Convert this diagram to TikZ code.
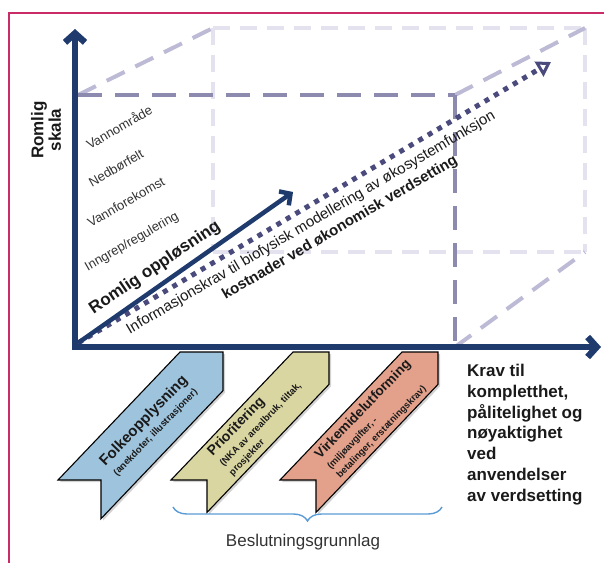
\documentclass[tikz,border=0pt]{standalone}
\usepackage{fontspec}
\setmainfont{Liberation Sans}
\usetikzlibrary{arrows.meta,decorations.pathreplacing,shadows}

\definecolor{aksefarge}{HTML}{1F3A6D}
\definecolor{prikkfarge}{HTML}{4A4A7C}
\definecolor{morkfarge}{HTML}{8C8AAF}
\definecolor{diagfarge}{HTML}{BDBAD6}
\definecolor{lyfarge}{HTML}{E3E2EE}
\definecolor{rammefarge}{HTML}{C92C68}
\definecolor{baandbla}{HTML}{9EC3DC}
\definecolor{baandgul}{HTML}{DAD6A2}
\definecolor{baandrod}{HTML}{E3A18B}
\definecolor{klammefarge}{HTML}{5B9BD5}
\definecolor{tekstfarge}{HTML}{1A1A1A}
\definecolor{gramfarge}{HTML}{333333}

\tikzset{
  aksepil/.style={draw=aksefarge, line width=6.5pt, line join=miter,
    {Straight Barb[length=9pt,width=20pt]}-{Straight Barb[length=9pt,width=20pt]}},
  opplpil/.style={draw=aksefarge, line width=4.5pt, -{Straight Barb[length=8pt,width=17pt]}},
  prikkpil/.style={draw=prikkfarge, line width=5pt, dash pattern=on 5pt off 6pt,
    -{Triangle[open,length=14pt,width=17pt,line width=3pt]}},
  stiplamork/.style={draw=morkfarge, line width=4.5pt, dash pattern=on 24pt off 13pt},
  stipladiag/.style={draw=diagfarge, line width=4pt, dash pattern=on 20pt off 12pt},
  stiplaly/.style={draw=lyfarge, line width=4pt, dash pattern=on 17pt off 10pt},
  baand/.style={draw=black, line width=1.1pt, line join=miter,
    drop shadow={shadow xshift=2pt, shadow yshift=-2pt, opacity=.35}},
  baandtekst/.style={rotate=46, text=tekstfarge, inner sep=0pt,
    font=\bfseries\fontsize{9.5}{12}\selectfont},
  nivaa/.style={rotate=30, text=gramfarge, inner sep=0pt, font=\fontsize{13}{15}\selectfont},
  aksetekst/.style={text=tekstfarge, inner sep=0pt, font=\bfseries\fontsize{17}{20.8}\selectfont},
  klammestil/.style={draw=klammefarge, line width=1.4pt, decorate,
    decoration={brace, amplitude=14pt}},
}

\begin{document}
\begin{tikzpicture}[x=1pt,y=-1pt]
\useasboundingbox (0,0) rectangle (604,563);

%ramme
\draw[draw=rammefarge, line width=1.5pt] (9,563) -- (9,13) -- (604,13);

%stiplet boks
\coordinate (A) at (78,95);   % foran oppe
\coordinate (B) at (455,95);
\coordinate (C) at (455,347);
\coordinate (D) at (213,28);  % bak
\coordinate (E) at (585,28);
\coordinate (F) at (585,252);
\coordinate (G) at (213,252);

\draw[stiplaly] (D) -- (E); \draw[stiplaly] (D) -- (G);
\draw[stiplaly] (E) -- (F); \draw[stiplaly] (G) -- (F);
\draw[stipladiag] (A) -- (D); % venstre
\draw[stipladiag] (B) -- (E); \draw[stipladiag] (C) -- (F);
\draw[stiplamork] (A) -- (B); \draw[stiplamork] (B) -- (C);

%bånd
\foreach \x/\w/\farge in {180/43/baandbla, 293/36/baandgul, 402/36/baandrod}
  \draw[baand, fill=\farge] (\x,352) -- (\x+\w,352) -- (\x+\w,352+0.9*\w)
    -- (\x+\w-122,480+0.9*\w) -- (\x+\w-122,480) -- (\x-122,480) -- cycle;

\node[baandtekst, align=center] (folk) at (149,426)
  {{\fontsize{15}{15}\selectfont Folkeopplysning}\\[3pt](anekdoter, illustrasjoner)};
\node[baandtekst, align=left] (prior) at (259,423)
  {{\fontsize{14}{14}\selectfont Prioritering}\\[3pt](NKA av arealbruk, tiltak,\\[1pt]prosjekter};
\node[baandtekst, align=left] (virk) at (373,419)
  {{\fontsize{13.5}{14}\selectfont Virkemidelutforming}\\[3pt](miljøavgifter, -\\[1pt]betalinger, erstatningskrav)};

%akser
\coordinate (O) at (75,347);
\coordinate (ytopp) at (75,29);
\coordinate (xende) at (601,347);
\coordinate (prikkende) at (551,62);
\coordinate (opplende) at (293,192);

\draw[prikkpil] (78,343) -- (prikkende);
\draw[opplpil] (78,343) -- (opplende);
\draw[aksepil] (ytopp) -- (O) -- (xende);

%tekst
\node[aksetekst, align=center, rotate=90, font=\bfseries\fontsize{17}{17.5}\selectfont] (skala) at (46,130) {Romlig\\skala};
\node[nivaa] (omr) at (119,127) {Vannområde};
\node[nivaa] (felt) at (116,168) {Nedbørfelt};
\node[nivaa] (fore) at (126,202) {Vannforekomst};
\node[nivaa] (inngrep) at (132,242) {Inngrep/regulering};
\node[aksetekst, rotate=34] (oppl) at (155,268) {Romlig oppløsning};
\node[rotate=30.5, text=tekstfarge, inner sep=0pt, font=\fontsize{15}{18}\selectfont] (info) at (311,223)
  {Informasjonskrav til biofysisk modellering av økosystemfunksjon};
\node[rotate=30.5, text=tekstfarge, inner sep=0pt, font=\bfseries\fontsize{15}{18}\selectfont] (kost) at (340,228)
  {kostnader ved økonomisk verdsetting};
\node[aksetekst, align=left, anchor=north west] (krav) at (467,364)
  {Krav til\\kompletthet,\\pålitelighet og\\nøyaktighet\\ved\\anvendelser\\av verdsetting};

%klamme
\coordinate (kl1) at (442,507);
\coordinate (kl2) at (173,507);
\draw[klammestil] (kl1) -- (kl2);
\node[text=gramfarge, font=\fontsize{17}{20}\selectfont] (grunnlag) at (303,542) {Beslutningsgrunnlag};

\end{tikzpicture}
\end{document}
